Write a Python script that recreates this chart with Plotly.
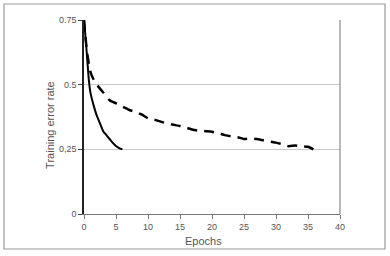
import plotly.graph_objects as go

solid_x = [0, 0.25, 0.5, 0.75, 1, 1.5, 2, 2.5, 3, 3.5, 4, 4.5, 5, 5.5, 6]
solid_y = [0.75, 0.68, 0.6, 0.52, 0.47, 0.42, 0.38, 0.35, 0.32, 0.305, 0.29, 0.275, 0.263, 0.255, 0.25]

dash_x = [0, 0.25, 0.5, 1, 1.5, 2, 3, 4, 5, 6, 7, 8, 9, 10, 11, 12, 13, 14, 15, 16, 17, 18, 19, 20, 21, 22, 23, 24, 25, 26, 27, 28, 29, 30, 31, 32, 33, 34, 35, 36]
dash_y = [0.75, 0.68, 0.62, 0.55, 0.52, 0.5, 0.47, 0.44, 0.428, 0.415, 0.403, 0.395, 0.385, 0.37, 0.365, 0.357, 0.35, 0.345, 0.34, 0.333, 0.326, 0.322, 0.32, 0.318, 0.312, 0.305, 0.3, 0.297, 0.29, 0.292, 0.29, 0.285, 0.28, 0.276, 0.27, 0.262, 0.265, 0.262, 0.26, 0.248]

y_ticks = [0, 0.25, 0.5, 0.75]
y_labels = ["0", "0,25", "0.5", "0.75"]
x_ticks = [0, 5, 10, 15, 20, 25, 30, 35, 40]

fig = go.Figure()
fig.add_trace(go.Scatter(x=dash_x, y=dash_y, mode="lines",
                         line=dict(color="black", width=2.5, dash="10px,7px", shape="spline", smoothing=0.5)))
fig.add_trace(go.Scatter(x=solid_x, y=solid_y, mode="lines",
                         line=dict(color="black", width=2, shape="spline", smoothing=0.6)))

fig.update_layout(
    width=390, height=256,
    margin=dict(l=84, r=50, t=20, b=42),
    paper_bgcolor="white", plot_bgcolor="white",
    showlegend=False,
    font=dict(family="Liberation Sans, Arial, sans-serif", color="#555555", size=9),
    xaxis=dict(range=[0, 40], tickvals=x_ticks, showgrid=False, zeroline=False,
               showline=True, linecolor="#777777", linewidth=1.2,
               ticks="outside", ticklen=4, tickcolor="#777777"),
    yaxis=dict(range=[0, 0.75], tickvals=y_ticks, ticktext=y_labels,
               showgrid=True, gridcolor="#c8c8c8", gridwidth=1, zeroline=False,
               showline=True, linecolor="#222222", linewidth=1.5,
               ticks="outside", ticklen=4, tickcolor="#444444"),
    annotations=[
        dict(text="Epochs", xref="paper", yref="paper", x=0.467, y=-0.139,
             showarrow=False, font=dict(size=11, color="#555555"),
             xanchor="center", yanchor="middle"),
        dict(text="Training error rate", xref="paper", yref="paper", x=-0.133, y=0.459,
             showarrow=False, textangle=-90, font=dict(size=11, color="#555555"),
             xanchor="center", yanchor="middle"),
    ],
    shapes=[
        dict(type="line", xref="paper", yref="paper", x0=1, x1=1, y0=0, y1=1,
             line=dict(color="#888888", width=1.2)),
        dict(type="rect", xref="paper", yref="paper", x0=-0.3125, x1=1.1758, y0=-0.1804, y1=1.0825,
             line=dict(color="#999999", width=1.2), fillcolor="rgba(0,0,0,0)"),
    ],
)
fig.write_html("out.html")
